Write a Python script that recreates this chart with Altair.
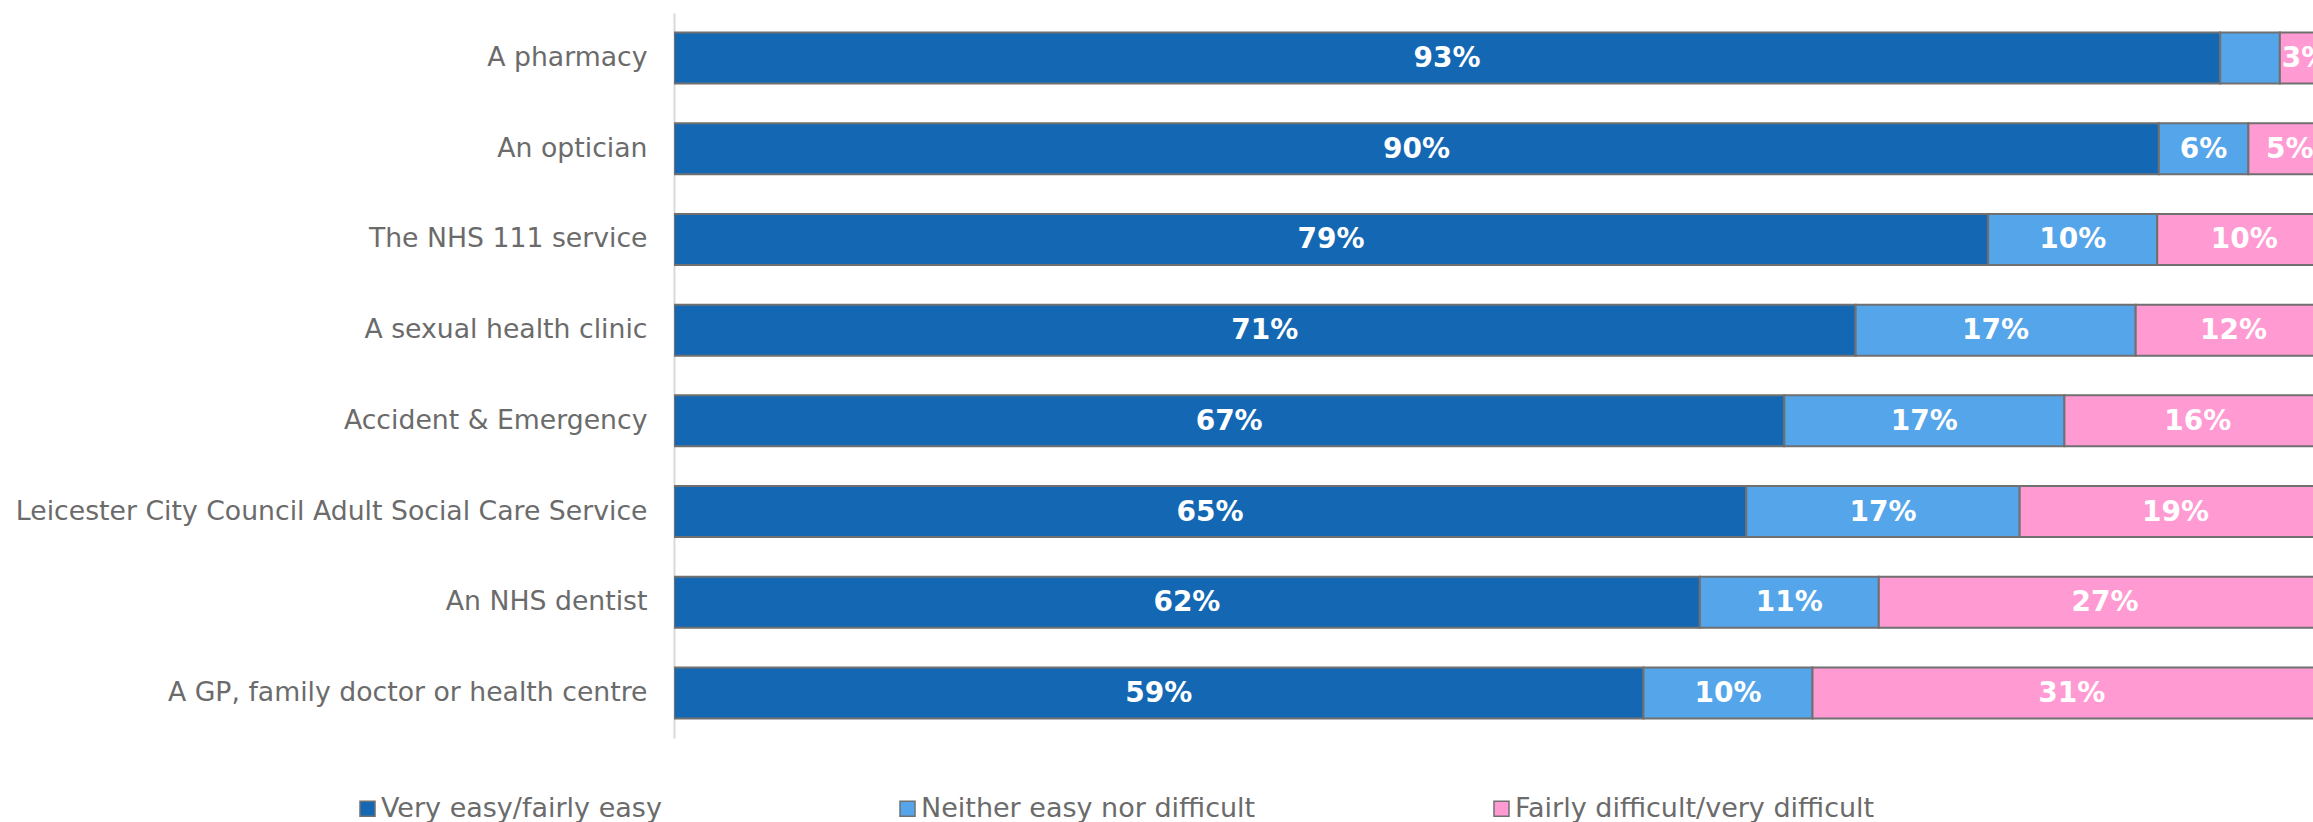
import altair as alt
import pandas as pd

services = [
    "A pharmacy",
    "An optician",
    "The NHS 111 service",
    "A sexual health clinic",
    "Accident & Emergency",
    "Leicester City Council Adult Social Care Service",
    "An NHS dentist",
    "A GP, family doctor or health centre",
]
# segment widths (%)
easy = [93.3, 89.6, 79.3, 71.3, 67.0, 64.7, 61.9, 58.5]
neither = [3.6, 5.4, 10.2, 16.9, 16.9, 16.5, 10.8, 10.2]
difficult = [3.1, 5.0, 10.5, 11.8, 16.1, 18.8, 27.3, 31.3]
# data labels as printed on the bars ("" = not shown)
easy_labels = ["93%", "90%", "79%", "71%", "67%", "65%", "62%", "59%"]
neither_labels = ["", "6%", "10%", "17%", "17%", "17%", "11%", "10%"]
difficult_labels = ["3%", "5%", "10%", "12%", "16%", "19%", "27%", "31%"]

series = ["Very easy/fairly easy", "Neither easy nor difficult", "Fairly difficult/very difficult"]
colors = ["#1468b3", "#55a5ea", "#ff9ad3"]

rows = []
for i, s in enumerate(services):
    start = 0.0
    for k, (name, vals, labs) in enumerate(zip(series, [easy, neither, difficult],
                                               [easy_labels, neither_labels, difficult_labels])):
        v = vals[i]
        rows.append(dict(service=s, series=name, start=start, end=start + v,
                         mid=start + v / 2, label=labs[i], order=k))
        start += v
df = pd.DataFrame(rows)

FONT = "DejaVu Sans"
GRAY = "#6b6b6b"

y = alt.Y(
    "service:N", sort=services,
    scale=alt.Scale(paddingInner=0.438, paddingOuter=0.216),
    axis=alt.Axis(title=None, ticks=False, labelPadding=27, labelFontSize=26.7,
                  labelColor=GRAY, labelFont=FONT, domainColor="#d9d9d9",
                  domainWidth=2, labelLimit=0, grid=False),
)
xscale = alt.Scale(domain=[0, 98.9], nice=False, zero=True)

bars = alt.Chart(df).mark_bar(stroke="#707070", strokeWidth=2, clip=True).encode(
    y=y,
    x=alt.X("start:Q", scale=xscale, axis=None),
    x2="end:Q",
    color=alt.Color(
        "series:N", sort=series,
        scale=alt.Scale(domain=series, range=colors),
        legend=alt.Legend(
            title=None, orient="none", legendX=-320, legendY=782,
            direction="horizontal", columns=3, columnPadding=232,
            symbolType="square", symbolSize=225, symbolStrokeColor="#707070",
            symbolStrokeWidth=1.5, labelOffset=0, labelFontSize=27,
            labelColor=GRAY, labelFont=FONT, labelLimit=0,
        ),
    ),
)

texts = alt.Chart(df).transform_filter("datum.label != ''").mark_text(
    color="white", fontWeight="bold", fontSize=28, font=FONT, clip=True, dy=1
).encode(
    y=alt.Y("service:N", sort=services),
    x=alt.X("mid:Q", scale=xscale, axis=None),
    text="label:N",
)

chart = (bars + texts).properties(
    width=1639, height=725,
    padding={"left": 674, "top": 13, "right": 0, "bottom": 84},
    autosize="none",
).configure(font=FONT).configure_view(stroke=None)

chart.save("out.html", embed_options={"renderer": "svg", "actions": False})
